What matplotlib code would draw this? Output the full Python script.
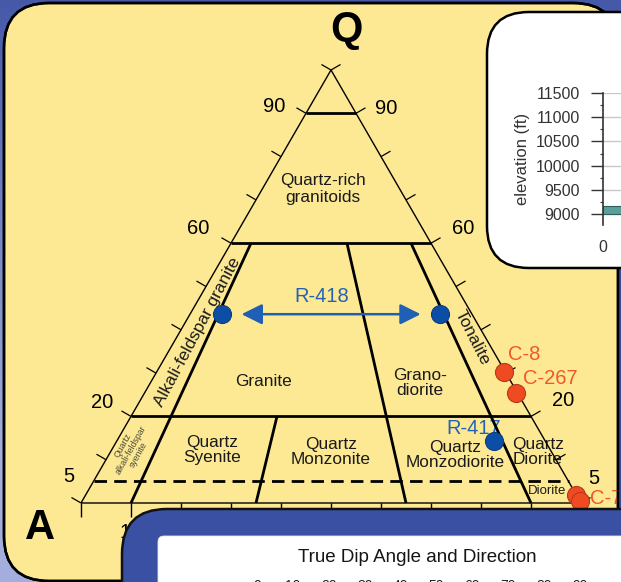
import numpy as np
import matplotlib
matplotlib.use('Agg')
import matplotlib.pyplot as plt
from matplotlib.patches import FancyBboxPatch, Rectangle

plt.rcParams['font.family'] = ['Liberation Sans', 'DejaVu Sans']

# ------------------------------------------------------------------ data
# QAP samples: Q content (%) and P/(A+P) ratio (%)
sample_names = ['R-418', 'R-418', 'R-417', 'C-8', 'C-267', 'C-7', 'C-7']
sample_q = [43.6, 43.6, 14.3, 30.3, 25.4, 1.9, 0.4]
sample_p = [11.4, 88.7, 88.0, 99.5, 99.6, 100.0, 100.0]
sample_group = ['R', 'R', 'R', 'C', 'C', 'C', 'C']

# horizontal field boundaries (Q %)
q_levels = [90, 60, 20]
q_dashed = 5
# sloping field boundaries: top (Q, P/(A+P)) -> bottom at Q=0 (P/(A+P))
bound_top_q = [60, 60, 60, 20]
bound_top_p = [10, 58, 90, 36.5]
bound_bot_p = [10, 65, 90, 35]

edge_tick_q = list(range(0, 101, 10))
base_tick_p = list(range(0, 101, 10))

# elevation inset
elev_ticks = [9000, 9500, 10000, 10500, 11000, 11500]
elev_minor = [9250, 9750, 10250, 10750, 11250]
elev_dist = [0, 100]
elev_val = [9170, 9170]

# dip inset
dip_ticks = [0, 10, 20, 30, 40, 50, 60, 70, 80, 90]


def tern(q, p):
    q = np.asarray(q, dtype=float) / 100.0
    p = np.asarray(p, dtype=float) / 100.0
    return q * 0.5 + (1 - q) * p, q


W, H = 621, 582
fig = plt.figure(figsize=(W / 100, H / 100), dpi=100)

# ------------------------------------------------------------------ background
bg = fig.add_axes([0, 0, 1, 1])
bg.set_xlim(0, W)
bg.set_ylim(H, 0)
bg.axis('off')
bg.set_zorder(0)

yy, xx = np.mgrid[0:H:2, 0:W:2]
t = np.clip((yy / H) * (1 - xx / W) * 1.3, 0, 1)[..., None]
c0 = np.array([0x46, 0x59, 0xa8]) / 255
c1 = np.array([0xa3, 0xae, 0xdd]) / 255
img = c0 * (1 - t) + c1 * t
bg.imshow(img, extent=(0, W, H, 0), aspect='auto', origin='upper', zorder=0)

yellow = '#fde994'
bg.add_patch(FancyBboxPatch((4, 3), 614, 578, boxstyle='round,pad=0,rounding_size=45',
                            fc=yellow, ec='black', lw=1.8, zorder=1))

txt = '#1a1a1a'
bg.text(346, 30, 'Q', fontsize=30, fontweight='bold', ha='center', va='center', color='black')
bg.text(40, 528, 'A', fontsize=30, fontweight='bold', ha='center', va='center', color='black')

for s, x, y in [('90', 274, 107), ('90', 386, 108), ('60', 198, 228), ('60', 463, 229),
                ('20', 102, 402), ('20', 563, 401), ('5', 69, 477), ('5', 594, 478),
                ('10', 131, 532)]:
    bg.text(x, y, s, fontsize=14.5, ha='center', va='center', color='black')

fs = 12.4
bg.text(323, 189, 'Quartz-rich\ngranitoids', fontsize=fs, ha='center', va='center',
        color=txt, linespacing=1.1)
bg.text(263, 382, 'Granite', fontsize=fs, ha='center', va='center', color=txt)
bg.text(420, 383, 'Grano-\ndiorite', fontsize=fs, ha='center', va='center', color=txt,
        linespacing=1.05)
bg.text(212, 450, 'Quartz\nSyenite', fontsize=fs, ha='center', va='center', color=txt,
        linespacing=1.0)
bg.text(331, 452, 'Quartz\nMonzonite', fontsize=fs, ha='center', va='center', color=txt,
        linespacing=1.05)
bg.text(455, 455, 'Quartz\nMonzodiorite', fontsize=fs, ha='center', va='center', color=txt,
        linespacing=1.05)
bg.text(538, 452, 'Quartz\nDiorite', fontsize=fs, ha='center', va='center', color=txt,
        linespacing=1.05)
bg.text(547, 491, 'Diorite', fontsize=9.5, ha='center', va='center', color=txt)
bg.text(197, 332, 'Alkali-feldspar granite', fontsize=fs, ha='center', va='center',
        color=txt, rotation=62, rotation_mode='anchor')
bg.text(472, 338, 'Tonalite', fontsize=fs, ha='center', va='center',
        color=txt, rotation=-63, rotation_mode='anchor')
bg.text(131, 450, 'Quartz\nalkali-feldspar\nsyenite', fontsize=6.3, ha='center',
        va='center', color='#4a4a3a', rotation=61, rotation_mode='anchor',
        linespacing=1.0)

blue_txt = '#2363b6'
red_txt = '#f0582a'
bg.text(322, 296, 'R-418', fontsize=14.5, ha='center', va='center', color=blue_txt)
bg.text(474, 429, 'R-417', fontsize=14.5, ha='center', va='center', color=blue_txt)
bg.text(524, 354, 'C-8', fontsize=14.5, ha='center', va='center', color=red_txt)
bg.text(550, 379, 'C-267', fontsize=14.5, ha='center', va='center', color=red_txt)
bg.text(590, 498, 'C-7', fontsize=14.5, ha='left', va='center', color=red_txt)

# ------------------------------------------------------------------ ternary diagram
tax = fig.add_axes([81 / W, (H - 503) / H, 500 / W, 433 / H])
tax.set_xlim(0, 1)
tax.set_ylim(0, 1)
tax.axis('off')
tax.set_zorder(1)

sx, sy = 500.0, 433.0
kw = dict(color='black', clip_on=False, solid_capstyle='butt')
# outer triangle
tax.plot([0, 1, 0.5, 0], [0, 0, 1, 0], lw=1.0, **kw)
# horizontal boundaries
for q in q_levels:
    (x0, y0), (x1, y1) = tern(q, 0), tern(q, 100)
    tax.plot([x0, x1], [y0, y1], lw=2.0, **kw)
(x0, y0), (x1, y1) = tern(q_dashed, 0), tern(q_dashed, 100)
tax.plot([x0, x1], [y0, y1], lw=2.0, ls=(0, (4.5, 2.6)), color='black', clip_on=False)
# sloping boundaries
for qt, pt, pb in zip(bound_top_q, bound_top_p, bound_bot_p):
    (x0, y0), (x1, y1) = tern(qt, pt), tern(0, pb)
    tax.plot([x0, x1], [y0, y1], lw=2.0, **kw)
# ticks
L = 11.0
for q in edge_tick_q:
    x, y = tern(q, 0)
    tax.plot([x, x - 0.866 * L / sx], [y, y + 0.5 * L / sy], lw=0.9, **kw)
    x, y = tern(q, 100)
    tax.plot([x, x + 0.866 * L / sx], [y, y + 0.5 * L / sy], lw=0.9, **kw)
for p in base_tick_p:
    x, y = tern(0, p)
    tax.plot([x, x], [y, y - 14 / sy], lw=1.0, **kw)

# arrow between R-418 end members
tax.annotate('', xy=tern(sample_q[1], sample_p[1]), xytext=tern(sample_q[0], sample_p[0]),
             arrowprops=dict(arrowstyle='<|-|>,head_length=1.0,head_width=0.5',
                             color='#1f5fb6', lw=1.8, shrinkA=14, shrinkB=14,
                             mutation_scale=12.5), annotation_clip=False)

colors = {'R': ('#0c4ea6', '#0a3f86'), 'C': ('#ee4b22', '#b8381a')}
for q, p, g in zip(sample_q, sample_p, sample_group):
    x, y = tern(q, p)
    fc, ec = colors[g]
    tax.plot([x], [y], 'o', ms=13, mfc=fc, mec=ec, mew=0.8, clip_on=False, zorder=5)

# ------------------------------------------------------------------ overlay panels
fg = fig.add_axes([0, 0, 1, 1])
fg.set_xlim(0, W)
fg.set_ylim(H, 0)
fg.axis('off')
fg.set_zorder(2)

fg.add_patch(Rectangle((619, 240), 12, 300, color='#3a4b9c', zorder=1))
fg.add_patch(FancyBboxPatch((4, 3), 614, 578, boxstyle='round,pad=0,rounding_size=45',
                            fill=False, ec='black', lw=1.8, zorder=2))
fg.add_patch(FancyBboxPatch((487, 12), 220, 256, boxstyle='round,pad=0,rounding_size=42',
                            fc='white', ec='black', lw=1.8, zorder=3))
fg.add_patch(FancyBboxPatch((122, 509), 600, 150, boxstyle='round,pad=0,rounding_size=45',
                            fc='#3a50a2', ec='#111111', lw=1.8, zorder=3))
fg.add_patch(FancyBboxPatch((158, 536), 520, 100, boxstyle='round,pad=0,rounding_size=6',
                            fc='white', ec='#e6e6ee', lw=0.6, zorder=4))
fg.text(417, 557, 'True Dip Angle and Direction', fontsize=13.5, ha='center', va='center',
        color='#151515', zorder=5)

# ------------------------------------------------------------------ elevation inset
ea = fig.add_axes([603 / W, (H - 225) / H, 200 / W, 132 / H])
ea.set_zorder(3)
ea.patch.set_alpha(0)
ea.set_xlim(0, 100)
ea.set_ylim(8773, 11500)
ea.fill_between(elev_dist, 9000, elev_val, color='#5b9e9a', edgecolor='#2f5f5c', lw=0.8,
                zorder=2)
ea.set_yticks(elev_ticks)
ea.set_yticks(elev_minor, minor=True)
ea.set_yticklabels([str(v) for v in elev_ticks], fontsize=11.5, color='#333333')
ea.tick_params(axis='y', which='major', length=8.5, width=1.0, pad=8, color='#333333')
ea.tick_params(axis='y', which='minor', length=2.5, width=0.8, color='#333333')
ea.yaxis.grid(True, which='major', color='#c8c8c8', lw=1.0, zorder=1)
ea.set_xticks([0])
ea.set_xticklabels(['0'], fontsize=11.5, color='#333333')
ea.tick_params(axis='x', length=0, pad=11)
for sp in ['top', 'right', 'bottom']:
    ea.spines[sp].set_visible(False)
ea.spines['left'].set_color('#333333')
ea.spines['left'].set_linewidth(1.2)
ea.set_ylabel('elevation (ft)', fontsize=12, color='#333333', labelpad=4)

# ------------------------------------------------------------------ dip inset (top axis only visible)
da = fig.add_axes([257 / W, (H - 640) / H, 323 / W, 46 / H])
da.set_zorder(3)
da.patch.set_alpha(0)
da.set_xlim(0, 90)
da.set_xticks(dip_ticks)
da.set_xticklabels([str(v) for v in dip_ticks], fontsize=10, color='#222222')
da.xaxis.tick_top()
da.tick_params(axis='x', length=0, pad=1)
da.set_yticks([])
for sp in da.spines.values():
    sp.set_visible(False)

fig.savefig('out.png', dpi=100)
